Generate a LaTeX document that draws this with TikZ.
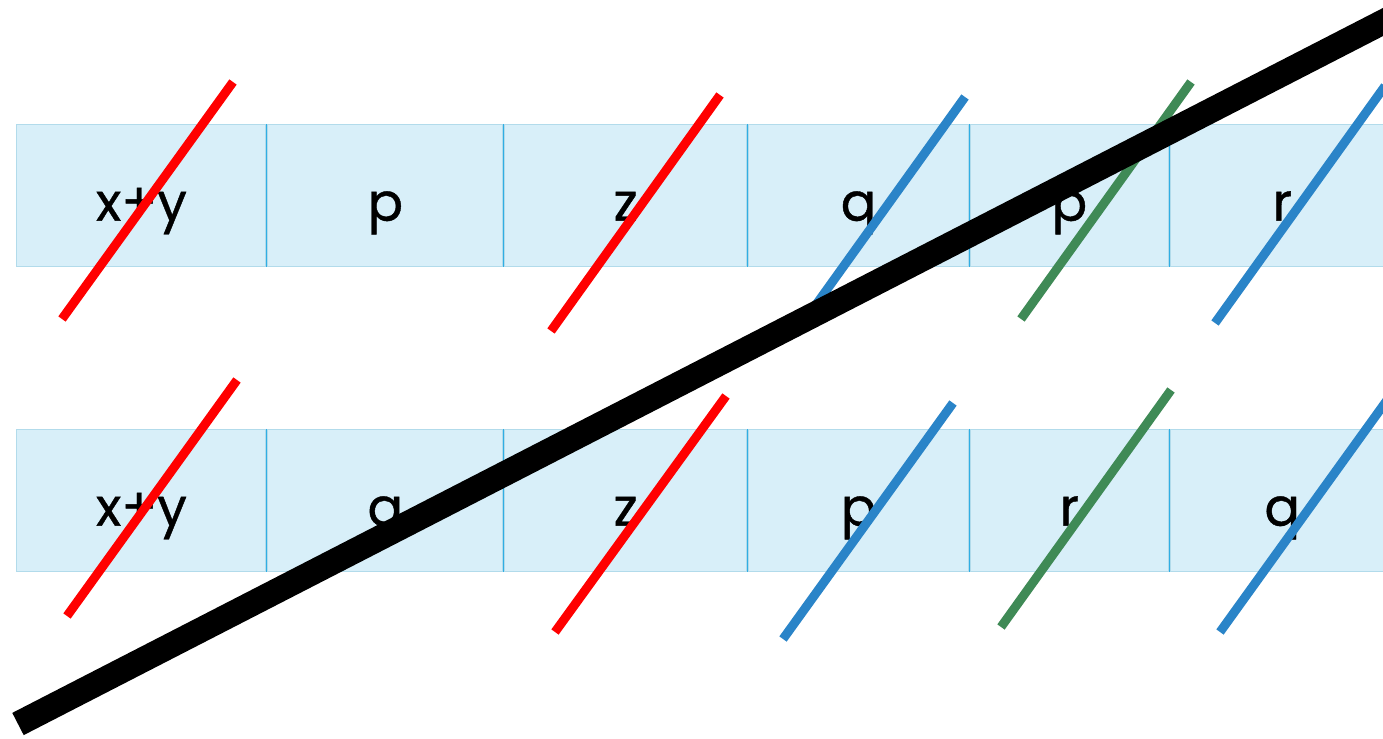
\documentclass[tikz,border=0pt]{standalone}
\usepackage{fontspec}
\setmainfont{Poppins}
\newfontfamily\cellfont[FakeBold=0.8]{Poppins}
\usepackage{tikz}
\usetikzlibrary{positioning}

\definecolor{cellfill}{HTML}{D8EFF9}
\definecolor{celledge}{HTML}{B2DBEB}
\definecolor{cellsep}{HTML}{30AEE4}
\definecolor{slashred}{HTML}{FF0000}
\definecolor{slashblue}{HTML}{2A84C8}
\definecolor{slashgreen}{HTML}{3F8A56}

\begin{document}
\begin{tikzpicture}[
    x=0.02cm,
    y=-0.02cm,
    node distance=0pt,
    cell/.style={
        rectangle,
        draw=celledge,
        fill=cellfill,
        line width=0.8pt,
        minimum height=2.84cm,
        inner sep=0pt,
        text height=1.0cm,
        text depth=0pt,
        font=\cellfont\fontsize{30}{34}\selectfont
    },
    sep/.style={cellsep, line width=0.7pt},
    slash/.style={line width=0.18cm},
    bar/.style={line width=0.5cm, black}
]

\useasboundingbox (0,0) rectangle (1383,739);
\clip (0,0) rectangle (1383,739);

% first row
\node[cell, minimum width=4.99cm, anchor=north west] (a1) at (16,124) {x+y};
\node[cell, minimum width=4.71cm, right=of a1] (a2) {p};
\node[cell, minimum width=4.85cm, right=of a2] (a3) {z};
\node[cell, minimum width=4.41cm, right=of a3] (a4) {q};
\node[cell, minimum width=3.97cm, right=of a4] (a5) {p};
\node[cell, minimum width=4.49cm, right=of a5] (a6) {r};

% second row
\node[cell, minimum width=4.99cm, anchor=north west] (b1) at (16,429) {x+y};
\node[cell, minimum width=4.71cm, right=of b1] (b2) {q};
\node[cell, minimum width=4.85cm, right=of b2] (b3) {z};
\node[cell, minimum width=4.41cm, right=of b3] (b4) {p};
\node[cell, minimum width=3.97cm, right=of b4] (b5) {r};
\node[cell, minimum width=4.49cm, right=of b5] (b6) {q};

\foreach \i in {1,...,5} {
    \draw[sep] (a\i.north east) -- (a\i.south east);
    \draw[sep] (b\i.north east) -- (b\i.south east);
}

% slashes
\draw[slash, slashred] (62,319) -- (233,82);
\draw[slash, slashred] (551,331) -- (720,95);
\draw[slash, slashblue] (795,334) -- (965,97);
\draw[slash, slashgreen] (1021,319) -- (1191,82);
\draw[slash, slashblue] (1215,323) -- (1385,86);

\draw[slash, slashred] (67,616) -- (237,380);
\draw[slash, slashred] (555,632) -- (726,396);
\draw[slash, slashblue] (783,639) -- (953,403);
\draw[slash, slashgreen] (1001,627) -- (1171,390);
\draw[slash, slashblue] (1220,632) -- (1390,396);

% crossing bar
\draw[bar] (18,724) -- (1420,3);

\end{tikzpicture}
\end{document}
